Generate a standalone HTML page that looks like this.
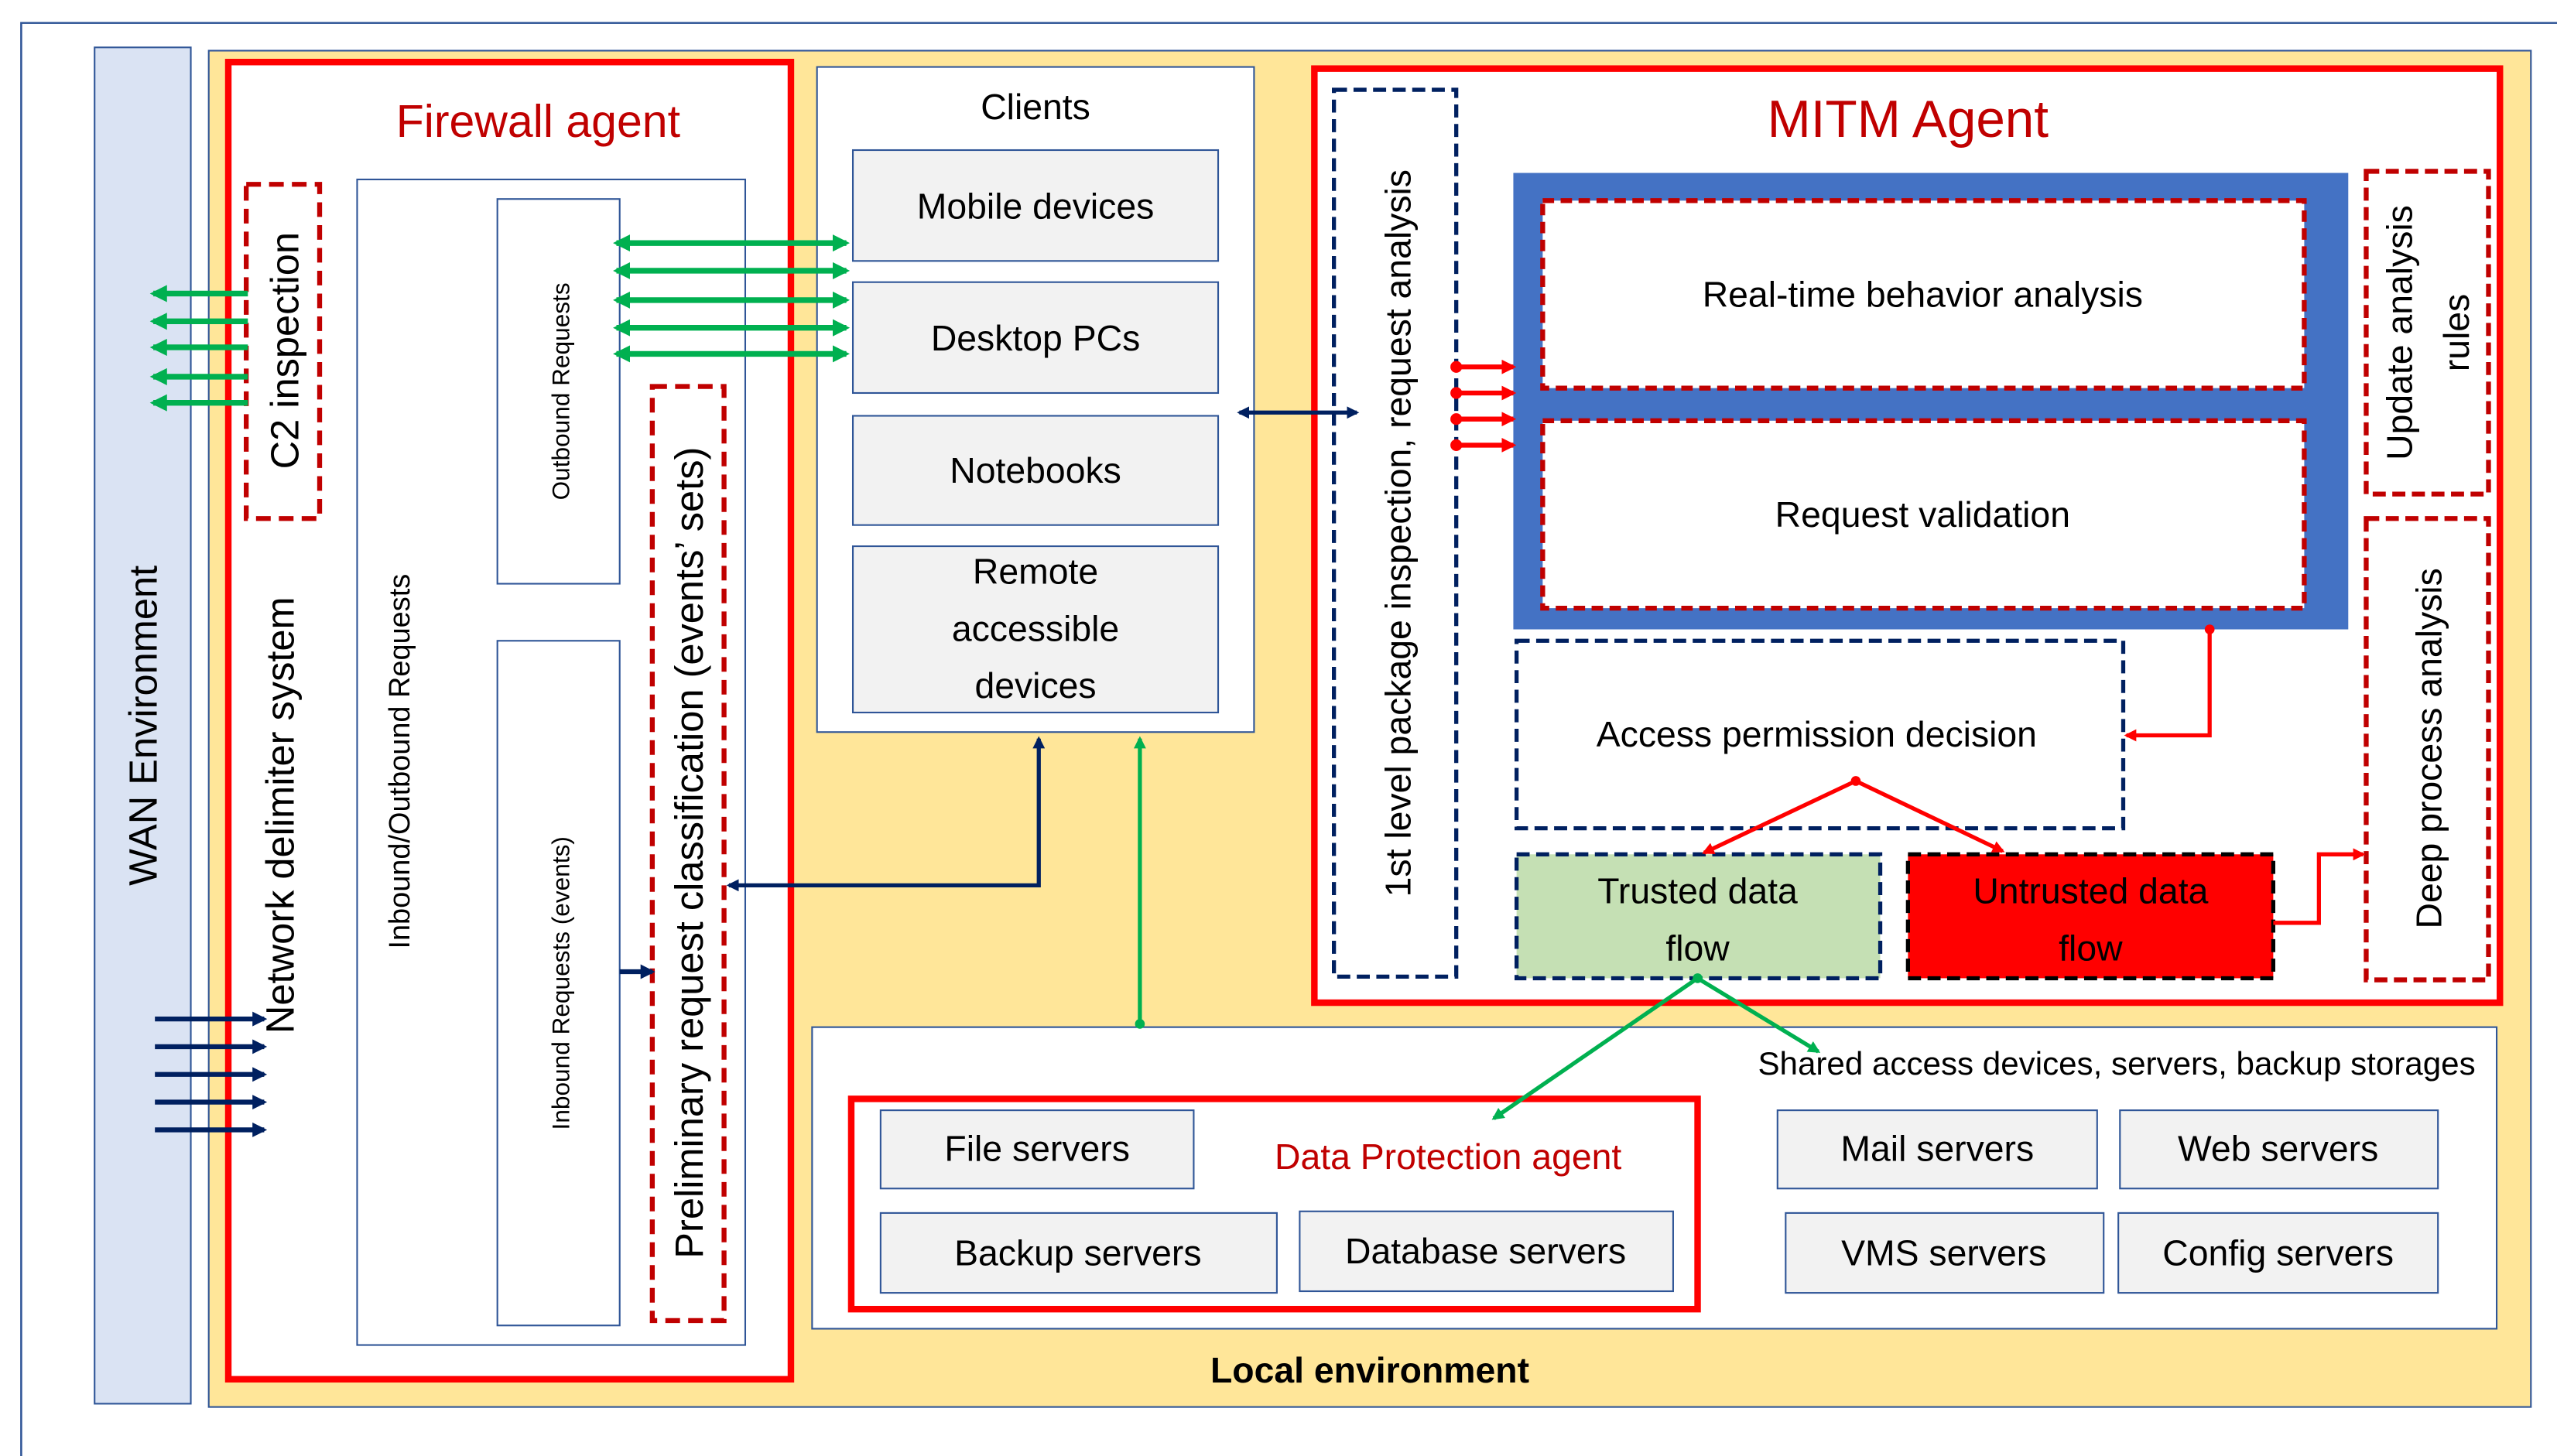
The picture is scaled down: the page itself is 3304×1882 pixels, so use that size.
<!DOCTYPE html>
<html><head><meta charset="utf-8"><style>html,body{margin:0;padding:0;background:#fff}svg{display:block}text{font-family:"Liberation Sans",sans-serif}</style></head><body>
<svg width="3304" height="1882" viewBox="0 0 1568 893" xmlns="http://www.w3.org/2000/svg">
<defs>
<marker id="gh" viewBox="0 0 10 10" refX="8" refY="5" markerWidth="3" markerHeight="3" orient="auto-start-reverse"><path d="M0,0L10,5L0,10z" fill="#00b050"/></marker>
<marker id="nh" viewBox="0 0 10 10" refX="8" refY="5" markerWidth="3" markerHeight="3" orient="auto-start-reverse"><path d="M0,0L10,5L0,10z" fill="#002060"/></marker>
<marker id="rh" viewBox="0 0 10 10" refX="8" refY="5" markerWidth="3" markerHeight="3" orient="auto-start-reverse"><path d="M0,0L10,5L0,10z" fill="#ff0000"/></marker>
<marker id="rd" viewBox="0 0 10 10" refX="5" refY="5" markerWidth="3" markerHeight="3"><circle cx="5" cy="5" r="4" fill="#ff0000"/></marker>
<marker id="gd" viewBox="0 0 10 10" refX="5" refY="5" markerWidth="3" markerHeight="3"><circle cx="5" cy="5" r="4" fill="#00b050"/></marker>
</defs>
<rect x="13" y="14" width="1600" height="900" fill="none" stroke="#2f5597" stroke-width="1.2"/>
<rect x="58" y="29" width="59" height="832" fill="#dae3f3" stroke="#2f5597" stroke-width="1"/>
<text transform="translate(96,445) rotate(-90)" text-anchor="middle" font-size="24">WAN Environment</text>
<rect x="128" y="31" width="1424" height="832" fill="#ffe699" stroke="#2f5597" stroke-width="1"/>
<text x="840" y="848" text-anchor="middle" font-size="22" font-weight="bold">Local environment</text>

<!-- Firewall -->
<rect x="140" y="38" width="345" height="808" fill="#fff" stroke="#ff0000" stroke-width="4"/>
<text x="330" y="84" text-anchor="middle" font-size="28" fill="#c00000">Firewall agent</text>
<rect x="151" y="113" width="45" height="205" fill="none" stroke="#c00000" stroke-width="3" stroke-dasharray="9,5"/>
<text transform="translate(183,215) rotate(-90)" text-anchor="middle" font-size="24">C2 inspection</text>
<text transform="translate(180,500) rotate(-90)" text-anchor="middle" font-size="24">Network delimiter system</text>
<rect x="219" y="110" width="238" height="715" fill="#fff" stroke="#2f5597" stroke-width="1"/>
<text transform="translate(251,467) rotate(-90)" text-anchor="middle" font-size="18">Inbound/Outbound Requests</text>
<rect x="305" y="122" width="75" height="236" fill="#fff" stroke="#2f5597" stroke-width="1"/>
<text transform="translate(349,240) rotate(-90)" text-anchor="middle" font-size="15">Outbound Requests</text>
<rect x="305" y="393" width="75" height="420" fill="#fff" stroke="#2f5597" stroke-width="1"/>
<text transform="translate(349,603) rotate(-90)" text-anchor="middle" font-size="15">Inbound Requests (events)</text>
<rect x="400" y="237" width="44" height="573" fill="none" stroke="#c00000" stroke-width="3" stroke-dasharray="9,5"/>
<text transform="translate(431,523) rotate(-90)" text-anchor="middle" font-size="24">Preliminary request classification (events’ sets)</text>

<!-- Clients -->
<rect x="501" y="41" width="268" height="408" fill="#fff" stroke="#2f5597" stroke-width="1"/>
<text x="635" y="73" text-anchor="middle" font-size="22">Clients</text>
<g fill="#f2f2f2" stroke="#2f5597" stroke-width="1">
<rect x="523" y="92" width="224" height="68"/><rect x="523" y="173" width="224" height="68"/><rect x="523" y="255" width="224" height="67"/><rect x="523" y="335" width="224" height="102"/>
</g>
<g font-size="22" text-anchor="middle">
<text x="635" y="134">Mobile devices</text><text x="635" y="215">Desktop PCs</text><text x="635" y="296">Notebooks</text>
<text x="635" y="358">Remote</text><text x="635" y="393">accessible</text><text x="635" y="428">devices</text>
</g>

<!-- MITM -->
<rect x="806" y="42" width="727" height="573" fill="#fff" stroke="#ff0000" stroke-width="4"/>
<text x="1170" y="84" text-anchor="middle" font-size="32" fill="#c00000">MITM Agent</text>
<rect x="818" y="55" width="75" height="544" fill="none" stroke="#002060" stroke-width="2.5" stroke-dasharray="8,4"/>
<text transform="translate(865,327) rotate(-90)" text-anchor="middle" font-size="22">1st level package inspection, request analysis</text>
<rect x="928" y="106" width="512" height="280" fill="#4472c4"/>
<rect x="946" y="123" width="467" height="115" fill="#fff" stroke="#c00000" stroke-width="3" stroke-dasharray="7,4"/>
<rect x="946" y="258" width="467" height="115" fill="#fff" stroke="#c00000" stroke-width="3" stroke-dasharray="7,4"/>
<text x="1179" y="188" text-anchor="middle" font-size="22">Real-time behavior analysis</text>
<text x="1179" y="323" text-anchor="middle" font-size="22">Request validation</text>
<rect x="1451" y="105" width="75" height="198" fill="none" stroke="#c00000" stroke-width="3" stroke-dasharray="8,4"/>
<text transform="translate(1479,204) rotate(-90)" text-anchor="middle" font-size="22">Update analysis</text>
<text transform="translate(1514,204) rotate(-90)" text-anchor="middle" font-size="22">rules</text>
<rect x="1451" y="318" width="75" height="283" fill="none" stroke="#c00000" stroke-width="3" stroke-dasharray="8,4"/>
<text transform="translate(1497,459) rotate(-90)" text-anchor="middle" font-size="22">Deep process  analysis</text>
<rect x="930" y="393" width="372" height="115" fill="#fff" stroke="#002060" stroke-width="2.5" stroke-dasharray="8,4"/>
<text x="1114" y="458" text-anchor="middle" font-size="22">Access permission decision</text>
<rect x="930" y="524" width="223" height="76" fill="#c5e0b4" stroke="#002060" stroke-width="2.5" stroke-dasharray="8,4"/>
<text x="1041" y="554" text-anchor="middle" font-size="22">Trusted data</text>
<text x="1041" y="589" text-anchor="middle" font-size="22">flow</text>
<rect x="1170" y="524" width="224" height="76" fill="#ff0000" stroke="#000" stroke-width="2.5" stroke-dasharray="8,4"/>
<text x="1282" y="554" text-anchor="middle" font-size="22">Untrusted data</text>
<text x="1282" y="589" text-anchor="middle" font-size="22">flow</text>

<!-- Shared -->
<rect x="498" y="630" width="1033" height="185" fill="#fff" stroke="#2f5597" stroke-width="1"/>
<text x="1518" y="659" text-anchor="end" font-size="20">Shared access devices, servers, backup storages</text>
<rect x="522" y="674" width="519" height="129" fill="none" stroke="#ff0000" stroke-width="4"/>
<text x="888" y="717" text-anchor="middle" font-size="22" fill="#c00000">Data Protection agent</text>
<g fill="#f2f2f2" stroke="#2f5597" stroke-width="1">
<rect x="540" y="681" width="192" height="48"/><rect x="540" y="744" width="243" height="49"/><rect x="797" y="743" width="229" height="49"/>
<rect x="1090" y="681" width="196" height="48"/><rect x="1300" y="681" width="195" height="48"/><rect x="1095" y="744" width="195" height="49"/><rect x="1299" y="744" width="196" height="49"/>
</g>
<g font-size="22" text-anchor="middle">
<text x="636" y="712">File servers</text><text x="661" y="776">Backup servers</text><text x="911" y="775">Database servers</text>
<text x="1188" y="712">Mail servers</text><text x="1397" y="712">Web servers</text><text x="1192" y="776">VMS servers</text><text x="1397" y="776">Config servers</text>
</g>

<!-- Connectors on top -->
<g stroke="#00b050" stroke-width="3.5" marker-end="url(#gh)">
<line x1="152" y1="180" x2="94" y2="180"/><line x1="152" y1="197" x2="94" y2="197"/><line x1="152" y1="213" x2="94" y2="213"/><line x1="152" y1="231" x2="94" y2="231"/><line x1="152" y1="247" x2="94" y2="247"/>
</g>
<g stroke="#00b050" stroke-width="3.5" marker-end="url(#gh)" marker-start="url(#gh)">
<line x1="378" y1="149" x2="519" y2="149"/><line x1="378" y1="166" x2="519" y2="166"/><line x1="378" y1="184" x2="519" y2="184"/><line x1="378" y1="201" x2="519" y2="201"/><line x1="378" y1="217" x2="519" y2="217"/>
</g>
<g stroke="#002060" stroke-width="3" marker-end="url(#nh)">
<line x1="95" y1="625" x2="162" y2="625"/><line x1="95" y1="642" x2="162" y2="642"/><line x1="95" y1="659" x2="162" y2="659"/><line x1="95" y1="676" x2="162" y2="676"/><line x1="95" y1="693" x2="162" y2="693"/>
<line x1="380" y1="596" x2="400" y2="596"/>
</g>
<path d="M447,543 L637,543 L637,453" fill="none" stroke="#002060" stroke-width="2.5" marker-end="url(#nh)" marker-start="url(#nh)"/>
<line x1="760" y1="253" x2="832" y2="253" stroke="#002060" stroke-width="2.5" marker-end="url(#nh)" marker-start="url(#nh)"/>
<line x1="699" y1="628" x2="699" y2="453" stroke="#00b050" stroke-width="2.5" marker-end="url(#gh)" marker-start="url(#gd)"/>
<g stroke="#ff0000" stroke-width="3" marker-end="url(#rh)" marker-start="url(#rd)">
<line x1="893" y1="225" x2="928" y2="225"/><line x1="893" y1="241" x2="928" y2="241"/><line x1="893" y1="257" x2="928" y2="257"/><line x1="893" y1="273" x2="928" y2="273"/>
</g>
<path d="M1355,386 L1355,451 L1304,451" fill="none" stroke="#ff0000" stroke-width="2.5" marker-end="url(#rh)" marker-start="url(#rd)"/>
<g stroke="#ff0000" stroke-width="2.5" fill="none">
<line x1="1138" y1="479" x2="1045" y2="523" marker-end="url(#rh)" marker-start="url(#rd)"/>
<line x1="1138" y1="479" x2="1228" y2="522" marker-end="url(#rh)"/>
<path d="M1394,566 L1422,566 L1422,524 L1449,524" marker-end="url(#rh)"/>
</g>
<g stroke="#00b050" stroke-width="2.5">
<line x1="1041" y1="600" x2="916" y2="686" marker-end="url(#gh)" marker-start="url(#gd)"/>
<line x1="1041" y1="600" x2="1115" y2="645" marker-end="url(#gh)"/>
</g>
</svg>
</body></html>
